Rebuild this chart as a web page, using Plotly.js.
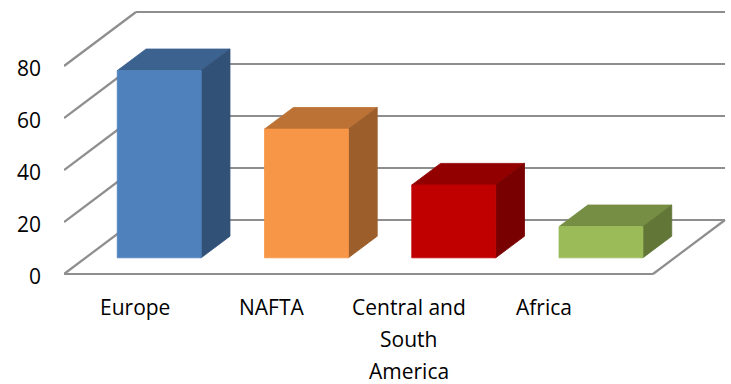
<!DOCTYPE html>
<html>
<head>
<meta charset="utf-8">
<script src="https://cdn.plot.ly/plotly-3.0.1.min.js"></script>
<style>
  html, body { margin: 0; padding: 0; background: #ffffff; }
  #chart { width: 731px; height: 384px; }
</style>
</head>
<body>
<div id="chart"></div>
<script>
// Regions and their values
const categories = ['Europe', 'NAFTA', 'Central and<br>South<br>America', 'Africa'];
const values = [72, 49.5, 28, 12];

// Face colours: front, top (lit from above), side (shaded)
const frontColors = ['#4F81BD', '#F79646', '#C00000', '#9BBB59'];
const topColors   = ['#3C6290', '#BC7235', '#920000', '#768E44'];
const sideColors  = ['#325177', '#9C5F2C', '#790000', '#627638'];

// Value axis
const gridValues = [0, 20, 40, 60, 80];
const tickLabels = ['0', '20', '40', '60', '80'];

// ---- oblique projection of the 3-D box -------------------------------
const W = 731, H = 384;
const PX_PER_CAT = 147.25;           // px per category along the floor front
const PX_PER_VAL = 2.6;              // px per value unit
const DEPTH_PX_X = 72, DEPTH_PX_Y = 54;
const DX = DEPTH_PX_X / PX_PER_CAT;  // depth offset in category units
const DY = DEPTH_PX_Y / PX_PER_VAL;  // depth offset in value units
const NCAT = categories.length;

const BAR_W = 0.57;                  // bar width, category units
const D_FRONT = 0.3, D_BACK = 0.7;   // bar depth within the floor
const labelU = [0.48, 1.41, 2.34, 3.26];

const M = { l: 64, r: 5, t: 5, b: 94 };
const FLOOR_FRONT_PX = 274;          // pixel row of value 0 at the front

function P(u, v, d) { return [u + d * DX, v + d * DY]; }

function poly(points) {
  const xs = [], ys = [];
  points.concat([points[0]]).forEach(p => { xs.push(p[0]); ys.push(p[1]); });
  return { x: xs, y: ys };
}

const traces = [];
const GRID = '#8E8E8E';

function segment(a, b) {
  traces.push({
    type: 'scatter', mode: 'lines', x: [a[0], b[0]], y: [a[1], b[1]],
    line: { color: GRID, width: 2.2 }, hoverinfo: 'skip', showlegend: false
  });
}

// walls: diagonal on the left wall and horizontal on the back wall
gridValues.forEach(v => {
  segment(P(0, v, 0), P(0, v, 1));
  segment(P(0, v, 1), P(NCAT, v, 1));
});
// floor front and right edges
segment(P(0, 0, 0), P(NCAT, 0, 0));
segment(P(NCAT, 0, 0), P(NCAT, 0, 1));

// bars
values.forEach((val, i) => {
  const uL = i + 0.5 - BAR_W / 2, uR = i + 0.5 + BAR_W / 2;
  const faces = [
    { pts: [P(uL, val, D_FRONT), P(uR, val, D_FRONT), P(uR, val, D_BACK), P(uL, val, D_BACK)], c: topColors[i] },
    { pts: [P(uR, 0, D_FRONT), P(uR, 0, D_BACK), P(uR, val, D_BACK), P(uR, val, D_FRONT)], c: sideColors[i] },
    { pts: [P(uL, 0, D_FRONT), P(uR, 0, D_FRONT), P(uR, val, D_FRONT), P(uL, val, D_FRONT)], c: frontColors[i] }
  ];
  faces.forEach(f => {
    const p = poly(f.pts);
    traces.push({
      type: 'scatter', mode: 'lines', x: p.x, y: p.y, fill: 'toself',
      fillcolor: f.c, line: { color: f.c, width: 0.8 },
      hoverinfo: 'skip', showlegend: false
    });
  });
});

// category labels, one annotation per text line
const annotations = [];
categories.forEach((c, i) => {
  c.split('<br>').forEach((line, k) => {
    annotations.push({
      x: labelU[i], xref: 'x', y: 0, yref: 'paper', yanchor: 'top', xanchor: 'center',
      yshift: -1 - 32 * k, text: line, showarrow: false,
      font: { family: 'Open Sans, sans-serif', size: 21, color: '#000000' }
    });
  });
});

const plotW = W - M.l - M.r;
const plotH = H - M.t - M.b;
const layout = {
  width: W, height: H, margin: M,
  paper_bgcolor: '#ffffff', plot_bgcolor: '#ffffff',
  showlegend: false,
  xaxis: {
    range: [0, plotW / PX_PER_CAT], visible: false, fixedrange: true
  },
  yaxis: {
    range: [(FLOOR_FRONT_PX - (M.t + plotH)) / PX_PER_VAL, (FLOOR_FRONT_PX - M.t) / PX_PER_VAL],
    tickvals: gridValues, ticktext: tickLabels,
    showgrid: false, zeroline: false, showline: false, ticks: '',
    ticklabelstandoff: 22, ticklabelshift: 3,
    tickfont: { family: 'Open Sans, sans-serif', size: 21, color: '#000000' },
    fixedrange: true
  },
  annotations: annotations
};

Plotly.newPlot('chart', traces, layout, { staticPlot: true, displayModeBar: false });
</script>
</body>
</html>
